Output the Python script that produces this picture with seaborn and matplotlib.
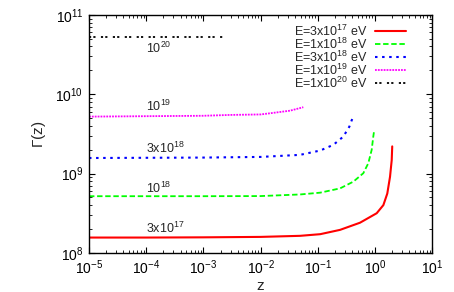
import numpy as np
import pandas as pd
import seaborn as sns
import matplotlib
matplotlib.use("Agg")
import matplotlib.pyplot as plt

# values (z, Gamma)
z_3e17 = [1e-5, 1e-4, 1e-3, 1e-2, 0.049, 0.11, 0.245, 0.547, 1.07, 1.40, 1.64, 1.83, 1.96, 2.0]
g_3e17 = [1.56e8, 1.56e8, 1.57e8, 1.59e8, 1.64e8, 1.72e8, 1.95e8, 2.40e8, 3.16e8, 4.0e8, 5.6e8, 9.1e8, 1.48e9, 2.2e9]

z_1e18 = [1e-5, 1e-3, 1e-2, 0.049, 0.11, 0.245, 0.418, 0.625, 0.764, 0.875, 0.933, 0.96]
g_1e18 = [5.18e8, 5.18e8, 5.2e8, 5.45e8, 5.74e8, 6.5e8, 7.9e8, 1.01e9, 1.35e9, 1.99e9, 2.92e9, 3.37e9]

z_3e18 = [1e-5, 1e-3, 1e-2, 0.049, 0.11, 0.187, 0.279, 0.356, 0.40]
g_3e18 = [1.57e9, 1.59e9, 1.62e9, 1.72e9, 1.95e9, 2.30e9, 2.92e9, 3.90e9, 4.89e9]

z_1e19 = [1e-5, 1e-3, 2.9e-3, 1e-2, 0.0146, 0.0327, 0.0558]
g_1e19 = [5.22e9, 5.35e9, 5.48e9, 5.56e9, 5.75e9, 6.2e9, 6.86e9]

z_1e20 = [1e-5, 1e-4, 1e-3, 2.3e-3]
g_1e20 = [5.32e10, 5.32e10, 5.32e10, 5.32e10]

legend_labels = [r"E=3x10$^{17}$ eV", r"E=1x10$^{18}$ eV", r"E=3x10$^{18}$ eV",
                 r"E=1x10$^{19}$ eV", r"E=1x10$^{20}$ eV"]
curve_labels = [r"3x10$^{17}$", r"10$^{18}$", r"3x10$^{18}$", r"10$^{19}$", r"10$^{20}$"]
label_z = [1e-4, 1e-4, 1e-4, 1e-4, 1e-4]
label_g = [1.80e8, 5.74e8, 1.84e9, 6.2e9, 3.3e10]

sns.set_style("ticks")
plt.rcParams["font.family"] = ["Liberation Sans", "DejaVu Sans"]
plt.rcParams["mathtext.default"] = "regular"
plt.rcParams["axes.unicode_minus"] = False

fig = plt.figure(figsize=(4.54, 2.92), dpi=100)
ax = fig.add_axes([0.196, 0.134, 0.756, 0.815])

series = [(z_3e17, g_3e17), (z_1e18, g_1e18), (z_3e18, g_3e18), (z_1e19, g_1e19), (z_1e20, g_1e20)]
colors = ["#ff0000", "#00ff00", "#0000ff", "#ff00ff", "#000000"]
dashes = [(None, None), (3, 1.5), (1.2, 2.2), (1, 0.6), (1.2, 1.2, 1.2, 3)]
widths = [1.5, 1.3, 1.5, 1.3, 1.3]

for (zz, gg), lab, c, d, w in zip(series, legend_labels, colors, dashes, widths):
    df = pd.DataFrame({"z": zz, "gamma": gg})
    sns.lineplot(data=df, x="z", y="gamma", ax=ax, color=c, lw=w, label=lab, sort=False)
    if d[0] is not None:
        ax.lines[-1].set_dashes(d)

ax.set_xscale("log")
ax.set_yscale("log")
ax.set_xlim(1e-5, 10)
ax.set_ylim(1e8, 1e11)
ax.set_xlabel("z", fontsize=11, labelpad=1.5)
ax.set_ylabel(r"$\Gamma$(z)", fontsize=11, labelpad=5)

for s in ax.spines.values():
    s.set_linewidth(1.0)
    s.set_color("black")
ax.tick_params(which="both", direction="in", top=True, right=True, labelsize=10, colors="black")
ax.tick_params(which="major", length=4.5, width=0.8, pad=4)
ax.tick_params(which="minor", length=2.5, width=0.6)
ax.yaxis.set_minor_locator(matplotlib.ticker.LogLocator(base=10, subs=np.arange(2, 10), numticks=20))
ax.yaxis.set_minor_formatter(matplotlib.ticker.NullFormatter())
ax.xaxis.set_minor_locator(matplotlib.ticker.LogLocator(base=10, subs=np.arange(2, 10), numticks=20))
ax.xaxis.set_minor_formatter(matplotlib.ticker.NullFormatter())

for lz, lg, t in zip(label_z, label_g, curve_labels):
    ax.text(lz, lg, t, fontsize=9, ha="left", va="baseline")

ax.legend(loc="upper right", frameon=False, markerfirst=False, fontsize=9,
          handlelength=2.5, labelspacing=-0.18, handletextpad=0.6,
          borderaxespad=0.3, bbox_to_anchor=(0.95, 1.0))

fig.savefig("out.png", dpi=100)
